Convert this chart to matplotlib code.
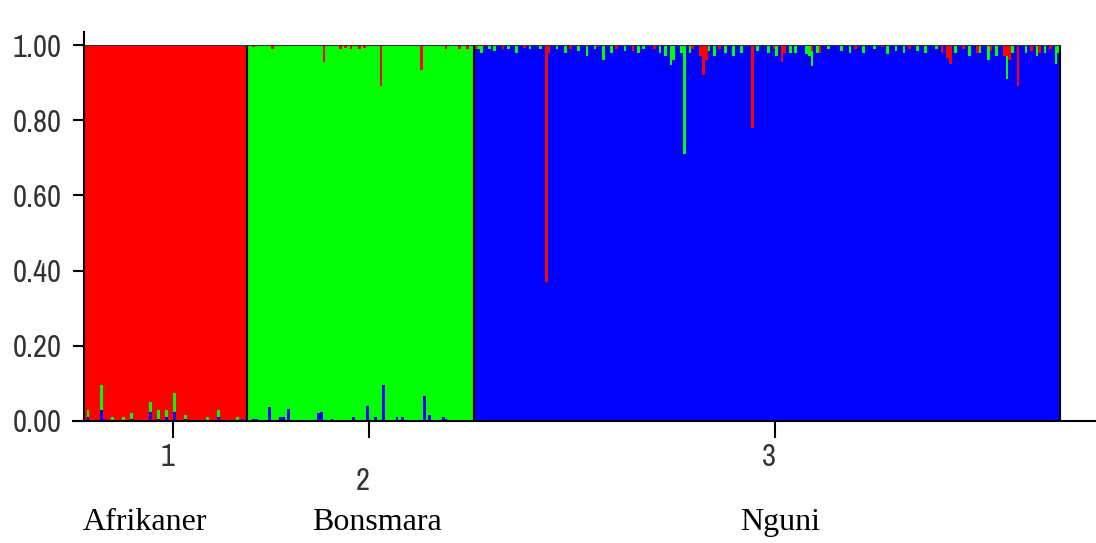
import matplotlib
matplotlib.use('Agg')
import matplotlib.pyplot as plt
from matplotlib import font_manager as fm
import numpy as np

# ---------------- data ----------------
populations = ['Afrikaner', 'Bonsmara', 'Nguni']
group_numbers = ['1', '2', '3']
pop_sizes = [60, 84, 216]
ytick_values = [0.0, 0.2, 0.4, 0.6, 0.8, 1.0]

# Afrikaner (majority: red cluster) - minor memberships
afr_green = {1: 0.02, 6: 0.065, 10: 0.01, 14: 0.01, 17: 0.015, 24: 0.025, 27: 0.025,
             30: 0.02, 33: 0.05, 37: 0.01, 45: 0.01, 49: 0.02, 56: 0.01}
afr_blue = {1: 0.01, 6: 0.03, 7: 0.005, 17: 0.005, 24: 0.025, 27: 0.005, 30: 0.01,
            33: 0.025, 37: 0.005, 49: 0.01, 58: 0.005}

# Bonsmara (majority: green cluster)
bon_red = {2: 0.005, 9: 0.01, 28: 0.045, 34: 0.01, 36: 0.008, 38: 0.01, 41: 0.01,
           43: 0.008, 49: 0.11, 64: 0.066, 73: 0.01, 78: 0.01, 81: 0.01}
bon_blue = {2: 0.005, 3: 0.005, 8: 0.037, 12: 0.01, 13: 0.01, 15: 0.032, 26: 0.02,
            27: 0.025, 31: 0.005, 39: 0.01, 44: 0.04, 47: 0.01, 50: 0.095, 55: 0.01,
            57: 0.01, 65: 0.066, 67: 0.015, 72: 0.01, 73: 0.005}

# Nguni (majority: blue cluster)
ngu_red = {0: 0.01, 3: 0.005, 10: 0.01, 18: 0.008, 26: 0.63, 27: 0.02, 35: 0.01,
           45: 0.005, 52: 0.01, 58: 0.015, 66: 0.01, 80: 0.01, 83: 0.03, 84: 0.08,
           85: 0.04, 90: 0.01, 102: 0.22, 110: 0.01, 113: 0.045, 114: 0.02, 124: 0.015,
           127: 0.02, 140: 0.01, 150: 0.005, 160: 0.01, 172: 0.02, 174: 0.035, 175: 0.05,
           180: 0.01, 185: 0.02, 190: 0.015, 195: 0.03, 196: 0.03, 197: 0.04, 200: 0.11,
           205: 0.015, 208: 0.02, 212: 0.01}
ngu_green = {1: 0.01, 2: 0.02, 5: 0.01, 7: 0.015, 12: 0.01, 15: 0.02, 20: 0.01, 24: 0.01,
             30: 0.01, 33: 0.02, 38: 0.015, 41: 0.03, 44: 0.01, 47: 0.04, 50: 0.02,
             55: 0.015, 60: 0.02, 62: 0.01, 68: 0.02, 70: 0.03, 72: 0.053, 73: 0.04,
             76: 0.02, 77: 0.29, 79: 0.02, 86: 0.015, 88: 0.03, 92: 0.02, 95: 0.03,
             98: 0.02, 104: 0.015, 108: 0.02, 111: 0.03, 116: 0.02, 118: 0.02,
             122: 0.025, 123: 0.03, 124: 0.04, 126: 0.02, 130: 0.01, 135: 0.015,
             138: 0.02, 143: 0.02, 147: 0.01, 152: 0.025, 155: 0.015, 158: 0.02,
             163: 0.015, 166: 0.02, 170: 0.01, 177: 0.02, 182: 0.03, 186: 0.02,
             189: 0.04, 192: 0.03, 196: 0.06, 198: 0.02, 203: 0.02, 207: 0.03,
             210: 0.02, 214: 0.05, 215: 0.02}

RED, GREEN, BLUE = '#FF0000', '#00FF00', '#0000FF'

# ---------------- narrow font selection ----------------
installed = {f.name for f in fm.fontManager.ttflist}
narrow_font = None
for fam in ['Archivo Narrow', 'Liberation Sans Narrow', 'Arial Narrow', 'Roboto Condensed']:
    if fam in installed:
        narrow_font = fm.FontProperties(family=fam)
        break
if narrow_font is None:
    for f in fm.fontManager.ttflist:
        if ('Narrow' in f.name or 'Condensed' in f.name) and f.style == 'normal' \
                and f.weight in (400, 'normal', 'regular'):
            narrow_font = fm.FontProperties(fname=f.fname)
            break
if narrow_font is None:
    narrow_font = fm.FontProperties(family=['Liberation Sans', 'DejaVu Sans'])
    num_size = 17
else:
    num_size = 22


def dense(n, d):
    a = np.zeros(n)
    for k, v in d.items():
        a[k] = v
    return a


n_afr, n_bon, n_ngu = pop_sizes
g1, b1 = dense(n_afr, afr_green), dense(n_afr, afr_blue)
r1 = 1 - g1 - b1
r2, b2 = dense(n_bon, bon_red), dense(n_bon, bon_blue)
g2 = 1 - r2 - b2
r3, g3 = dense(n_ngu, ngu_red), dense(n_ngu, ngu_green)
b3 = 1 - r3 - g3

red = np.concatenate([r1, r2, r3])
green = np.concatenate([g1, g2, g3])
blue = np.concatenate([b1, b2, b3])
N = len(red)
x = np.arange(N)

# ---------------- figure ----------------
W, H = 1096, 543
LEFT_PX = 73
fig = plt.figure(figsize=(W / 100, H / 100), dpi=100)
ax = fig.add_axes([LEFT_PX / W, (H - 421) / H, (W - LEFT_PX) / W, (421 - 32) / H])

ppu = (1060 - 84) / N  # pixels per individual
ax.set_xlim(-(84 - LEFT_PX) / ppu, N + (W - 1060) / ppu)
ax.set_ylim(0, (421 - 32) / 376)

kw = dict(width=1.0, align='edge', linewidth=0, antialiased=False)
ax.bar(x, blue, bottom=0, color=BLUE, **kw)
ax.bar(x, green, bottom=blue, color=GREEN, **kw)
ax.bar(x, red, bottom=blue + green, color=RED, **kw)

bounds = np.cumsum([0] + pop_sizes)
for bx in bounds[1:]:
    ax.plot([bx, bx], [0, 1], color='black', lw=1.5, solid_capstyle='butt')
ax.plot([0, N], [1, 1], color='#333333', lw=0.8)

for s in ['top', 'right']:
    ax.spines[s].set_visible(False)
ax.spines['left'].set_position(('data', 0))
ax.spines['left'].set_linewidth(1.5)
ax.spines['bottom'].set_linewidth(1.5)

ax.set_yticks(ytick_values)
ax.set_yticklabels([f'{v:.2f}' for v in ytick_values], fontproperties=narrow_font,
                   fontsize=num_size, color='#333333')
ax.tick_params(axis='y', length=8, width=1.5, pad=8, direction='out')

centers = bounds[:-1] + np.array(pop_sizes) / 2 + 3
ax.set_xticks(centers)
ax.set_xticklabels([])
ax.tick_params(axis='x', length=12, width=1.5, direction='out')

num_y = [-0.095, -0.16, -0.095]
for cx, lab, yy in zip(centers, group_numbers, num_y):
    ax.text(cx - 6 / ppu, yy, lab, ha='center', va='center', fontproperties=narrow_font,
            fontsize=num_size, color='#333333', clip_on=False)

name_x_px = [145, 377, 780]
for px, name in zip(name_x_px, populations):
    ax.text((px - 84) / ppu, -(530 - 421) / 376, name, ha='center', va='baseline',
            family=['Liberation Serif', 'DejaVu Serif'], fontsize=23, color='black',
            clip_on=False)

fig.savefig('out.png', dpi=100)
